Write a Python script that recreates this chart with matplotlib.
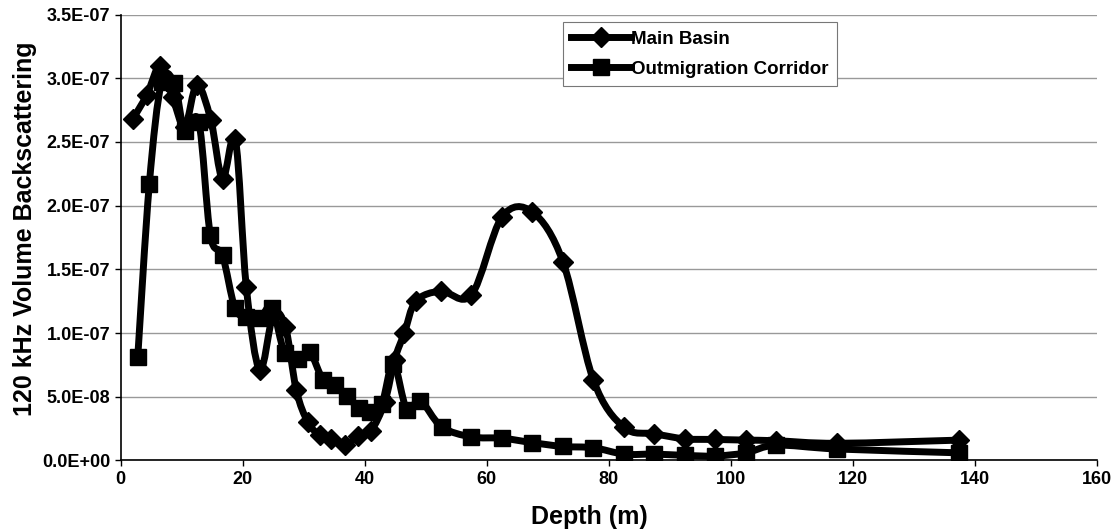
import numpy as np
import matplotlib
matplotlib.use("Agg")
import matplotlib.pyplot as plt
from matplotlib.path import Path
from matplotlib.patches import PathPatch
from matplotlib.lines import Line2D
from matplotlib.ticker import FuncFormatter

# values
depth_main = [2, 4.3, 6.5, 8.5, 10.5, 12.5, 14.8, 16.7, 18.8, 20.6, 22.8, 25, 27, 28.8,
              30.7, 32.6, 34.5, 36.8, 38.9, 41, 43.3, 44.9, 46.5, 48.4, 52.5, 57.5, 62.5,
              67.5, 72.5, 77.5, 82.5, 87.5, 92.5, 97.5, 102.5, 107.5, 117.5, 137.5]
main_basin = [2.68e-7, 2.87e-7, 3.10e-7, 2.85e-7, 2.62e-7, 2.95e-7, 2.67e-7, 2.21e-7, 2.52e-7,
              1.36e-7, 7.1e-8, 1.14e-7, 1.05e-7, 5.5e-8, 3.0e-8, 2.0e-8, 1.7e-8, 1.2e-8,
              1.9e-8, 2.3e-8, 4.6e-8, 7.9e-8, 1.0e-7, 1.25e-7, 1.33e-7, 1.30e-7, 1.91e-7,
              1.95e-7, 1.56e-7, 6.3e-8, 2.6e-8, 2.1e-8, 1.7e-8, 1.65e-8, 1.6e-8, 1.55e-8,
              1.35e-8, 1.6e-8]

depth_corr = [2.8, 4.7, 6.7, 8.8, 10.5, 12.8, 14.7, 16.7, 18.7, 20.5, 22.8, 24.8, 26.9, 29.1,
              31, 33.2, 35.1, 37.1, 39, 40.9, 42.8, 44.7, 46.9, 49.1, 52.6, 57.5, 62.5,
              67.5, 72.5, 77.5, 82.5, 87.5, 92.5, 97.5, 102.5, 107.5, 117.5, 137.5]
outmigration = [8.1e-8, 2.17e-7, 2.97e-7, 2.96e-7, 2.59e-7, 2.66e-7, 1.77e-7, 1.61e-7, 1.20e-7,
                1.13e-7, 1.12e-7, 1.20e-7, 8.4e-8, 8.0e-8, 8.5e-8, 6.3e-8, 5.9e-8, 5.1e-8,
                4.1e-8, 3.8e-8, 4.4e-8, 7.6e-8, 4.0e-8, 4.7e-8, 2.65e-8, 1.85e-8, 1.75e-8,
                1.4e-8, 1.1e-8, 1.0e-8, 5e-9, 5e-9, 4e-9, 3.5e-9, 6e-9, 1.2e-8, 9e-9, 6e-9]

x_ticks = [0, 20, 40, 60, 80, 100, 120, 140, 160]
y_ticks = [0, 5e-8, 1e-7, 1.5e-7, 2e-7, 2.5e-7, 3e-7, 3.5e-7]

plt.rcParams['font.family'] = ['Liberation Sans', 'DejaVu Sans']
plt.rcParams['font.weight'] = 'bold'


def smooth_path(xs, ys):
    """Curva di Bezier alla maniera di Excel (linea smussata) attraverso i punti."""
    pts = np.column_stack([xs, ys])
    n = len(pts)
    verts = [pts[0]]
    codes = [Path.MOVETO]
    for i in range(n - 1):
        p0 = pts[max(i - 1, 0)]
        p1 = pts[i]
        p2 = pts[i + 1]
        p3 = pts[min(i + 2, n - 1)]
        c1 = p1 + (p2 - p0) / 6.0
        c2 = p2 - (p3 - p1) / 6.0
        verts += [c1, c2, p2]
        codes += [Path.CURVE4] * 3
    return Path(verts, codes)


fig = plt.figure(figsize=(11.14, 5.31), dpi=100)
ax = fig.add_axes([0.1083, 0.1328, 0.8762, 0.8397])

lw = 5
for xs, ys, mk, ms in [(depth_main, main_basin, 'D', 10),
                       (depth_corr, outmigration, 's', 11)]:
    ax.add_patch(PathPatch(smooth_path(xs, ys), fill=False, edgecolor='black',
                           lw=lw, capstyle='round', joinstyle='round', zorder=3))
    ax.plot(xs, ys, linestyle='none', marker=mk, markersize=ms, color='black', zorder=4)

ax.set_xlim(0, 160)
ax.set_ylim(0, 3.5e-7)
ax.set_xticks(x_ticks)
ax.set_yticks(y_ticks)
ax.yaxis.set_major_formatter(FuncFormatter(lambda v, p: f"{v:.1E}"))
ax.tick_params(axis='both', labelsize=13, direction='out', length=4, width=1)
for lab in ax.get_xticklabels() + ax.get_yticklabels():
    lab.set_fontweight('bold')

ax.grid(axis='y', color='#999999', lw=1.0, zorder=0)
ax.set_axisbelow(True)
for s in ['top', 'right']:
    ax.spines[s].set_visible(False)
ax.spines['left'].set_linewidth(1.2)
ax.spines['bottom'].set_linewidth(1.2)

ax.set_xlabel('Depth (m)', fontsize=18, fontweight='bold')
ax.set_ylabel('120 kHz Volume Backscattering', fontsize=18, fontweight='bold')
ax.xaxis.set_label_coords(0.48, -0.1)
ax.yaxis.set_label_coords(-0.086, 0.52)

handles = [Line2D([], [], color='black', lw=lw, marker='D', markersize=10),
           Line2D([], [], color='black', lw=lw, marker='s', markersize=11)]
leg = ax.legend(handles, ['Main Basin', 'Outmigration Corridor'], loc='upper left',
                bbox_to_anchor=(0.453, 0.983), borderaxespad=0, fontsize=13.5,
                handlelength=3.2, handletextpad=0.0, borderpad=0.45, labelspacing=0.7,
                fancybox=False, framealpha=1, edgecolor='#777777')
leg.get_frame().set_linewidth(0.8)
for t in leg.get_texts():
    t.set_fontweight('bold')

fig.savefig('out.png', dpi=100)
